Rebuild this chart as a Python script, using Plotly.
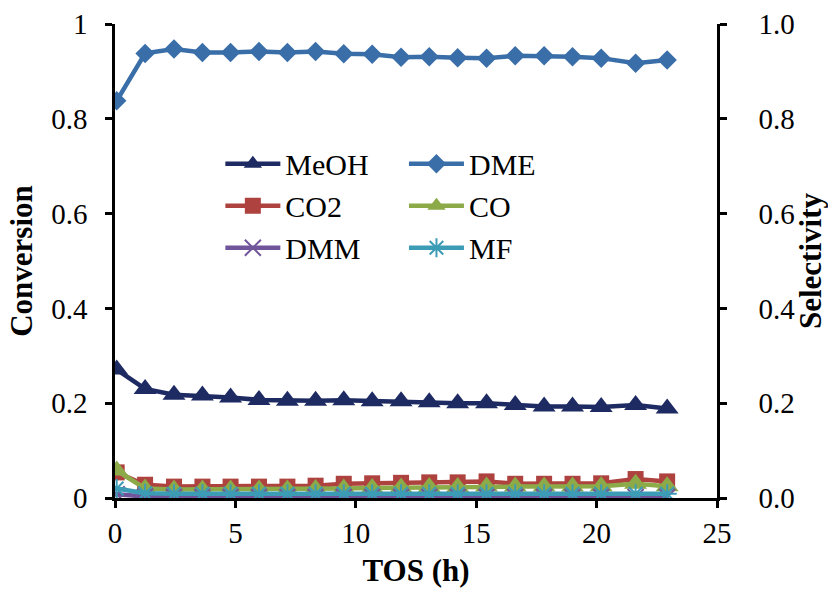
import plotly.graph_objects as go

# Time on stream (h)
tos = [0.07, 1.25, 2.45, 3.63, 4.80, 5.98, 7.16, 8.33, 9.50, 10.68,
       11.88, 13.05, 14.23, 15.43, 16.62, 17.82, 19.00, 20.19, 21.62, 22.93]

# Methanol conversion
meoh = [0.271, 0.230, 0.218, 0.216, 0.212, 0.207, 0.205, 0.205, 0.206, 0.204,
        0.204, 0.202, 0.200, 0.200, 0.196, 0.193, 0.193, 0.192, 0.196, 0.189]

# Product selectivities
dme = [0.838, 0.938, 0.947, 0.940, 0.940, 0.942, 0.940, 0.942, 0.937, 0.936,
       0.930, 0.931, 0.929, 0.928, 0.933, 0.933, 0.931, 0.928, 0.917, 0.924]
co2 = [0.054, 0.028, 0.024, 0.024, 0.024, 0.024, 0.024, 0.026, 0.030, 0.031,
       0.032, 0.033, 0.033, 0.035, 0.030, 0.030, 0.030, 0.031, 0.040, 0.035]
co = [0.058, 0.020, 0.018, 0.018, 0.018, 0.018, 0.018, 0.019, 0.020, 0.021,
      0.022, 0.023, 0.023, 0.024, 0.024, 0.024, 0.024, 0.025, 0.030, 0.025]
dmm = [0.008, 0.003, 0.002, 0.002, 0.002, 0.002, 0.002, 0.002, 0.002, 0.002,
       0.002, 0.002, 0.002, 0.002, 0.002, 0.002, 0.002, 0.002, 0.002, 0.002]
mf = [0.020, 0.010, 0.009, 0.009, 0.009, 0.009, 0.009, 0.009, 0.009, 0.009,
      0.009, 0.009, 0.009, 0.009, 0.009, 0.009, 0.009, 0.009, 0.009, 0.009]

left_ticks = [0, 0.2, 0.4, 0.6, 0.8, 1]
left_text = ["0", "0.2", "0.4", "0.6", "0.8", "1"]
right_text = ["0.0", "0.2", "0.4", "0.6", "0.8", "1.0"]
x_ticks = [0, 5, 10, 15, 20, 25]

FONT = "Liberation Serif, Times New Roman, serif"
LW = 4.5

series = [
    # name, values, color, symbol, size, axis, legend
    ("MeOH", meoh, "#1E2B63", "triangle-up", 20, "y", "legend"),
    ("DME", dme, "#3A6EA8", "diamond", 15, "y2", "legend2"),
    ("CO2", co2, "#AE423F", "square", 16, "y2", "legend"),
    ("CO", co, "#8CAA48", "triangle-up", 20, "y2", "legend2"),
    ("DMM", dmm, "#71559A", "x-thin", 16, "y2", "legend"),
    ("MF", mf, "#3C9CB6", "asterisk", 16, "y2", "legend2"),
]

fig = go.Figure()
for name, vals, color, sym, size, axis, leg in series:
    marker = dict(symbol=sym, size=size, color=color)
    if sym in ("x-thin", "asterisk"):
        marker["line"] = dict(color=color, width=2)
    fig.add_trace(go.Scatter(
        x=tos, y=vals, name=name, mode="lines+markers",
        line=dict(color=color, width=LW), marker=marker,
        yaxis=axis, legend=leg,
    ))

axis_common = dict(
    showgrid=False, zeroline=False, showline=True, linecolor="black",
    linewidth=2.5, ticks="outside", ticklen=7, tickwidth=2.5,
    tickcolor="black", automargin=False,
    tickfont=dict(family=FONT, size=29, color="black"),
)

fig.update_layout(
    width=828, height=591,
    margin=dict(l=115, r=111, t=24, b=93),
    plot_bgcolor="white", paper_bgcolor="white",
    font=dict(family=FONT, color="black"),
    xaxis=dict(range=[0, 25], tickvals=x_ticks, ticklabelstandoff=0,
               title=dict(text="<b>TOS (h)</b>", font=dict(family=FONT, size=31),
                          standoff=12),
               **axis_common),
    yaxis=dict(range=[0, 1], tickvals=left_ticks, ticktext=left_text,
               ticklabelstandoff=12,
               title=dict(text="<b>Conversion</b>", font=dict(family=FONT, size=31),
                          standoff=10),
               **axis_common),
    yaxis2=dict(range=[0, 1], tickvals=left_ticks, ticktext=right_text,
                overlaying="y", side="right", ticklabelstandoff=26,
                title=dict(text="<b>Selectivity</b>", font=dict(family=FONT, size=31),
                           standoff=4),
                **axis_common),
    legend=dict(x=0.175, y=0.76, xanchor="left", yanchor="top",
                bgcolor="rgba(0,0,0,0)", itemwidth=55,
                font=dict(family=FONT, size=30, color="black")),
    legend2=dict(x=0.48, y=0.76, xanchor="left", yanchor="top",
                 bgcolor="rgba(0,0,0,0)", itemwidth=55,
                 font=dict(family=FONT, size=30, color="black")),
)

fig.write_html("out.html")
